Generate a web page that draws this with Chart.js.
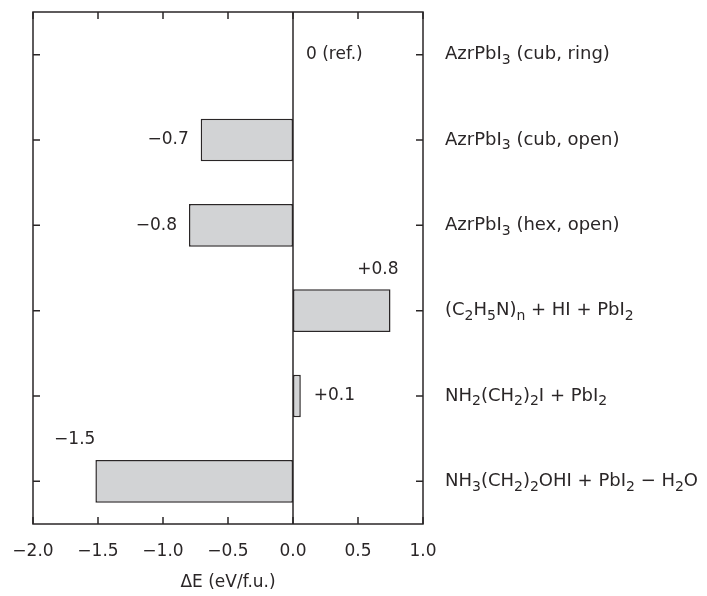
<!DOCTYPE html>
<html>
<head>
<meta charset="utf-8">
<script src="https://cdn.jsdelivr.net/npm/chart.js@4.4.1/dist/chart.umd.min.js"></script>
<style>
  html, body { margin: 0; padding: 0; background: #fff; }
  #wrap { width: 707px; height: 596px; position: relative; }
</style>
</head>
<body>
<div id="wrap"><canvas id="chart"></canvas></div>
<script>
// --- DATA ---
// "_" marks the next character as a subscript
const categories = [
    'AzrPbI_3 (cub, ring)',
    'AzrPbI_3 (cub, open)',
    'AzrPbI_3 (hex, open)',
    '(C_2H_5N)_n + HI + PbI_2',
    'NH_2(CH_2)_2I + PbI_2',
    'NH_3(CH_2)_2OHI + PbI_2 \u2212 H_2O'
];
const energies = [0, -0.71, -0.8, 0.75, 0.06, -1.52];
const valueLabels = ['0 (ref.)', '\u22120.7', '\u22120.8', '+0.8', '+0.1', '\u22121.5'];
const xTicks = [-2.0, -1.5, -1.0, -0.5, 0.0, 0.5, 1.0];

// where each value label sits relative to its bar end
const labelPlacement = ['right', 'left', 'left', 'above', 'right', 'above'];

const INK = '#2a2627';
const FONT = '"DejaVu Sans", sans-serif';
const FONT_SIZE = 17;

// --- HELPERS ---
function parseRich(str) {
    const parts = [];
    for (let i = 0; i < str.length; i++) {
        if (str[i] === '_' && i + 1 < str.length) {
            parts.push({ t: str[i + 1], sub: true });
            i++;
        } else {
            const last = parts[parts.length - 1];
            if (last && !last.sub) last.t += str[i];
            else parts.push({ t: str[i], sub: false });
        }
    }
    return parts;
}

function drawRich(ctx, str, x, y, size) {
    ctx.textBaseline = 'middle';
    ctx.textAlign = 'left';
    parseRich(str).forEach(p => {
        if (p.sub) {
            ctx.font = `${Math.round(size * 0.8)}px ${FONT}`;
            ctx.fillText(p.t, x, y + size * 0.32);
        } else {
            ctx.font = `${size}px ${FONT}`;
            ctx.fillText(p.t, x, y);
        }
        x += ctx.measureText(p.t).width;
    });
}

// --- FRAME, TICKS, LABELS ---
const decorPlugin = {
    id: 'decor',
    afterDraw(chart) {
        const ctx = chart.ctx;
        const area = chart.chartArea;
        const xs = chart.scales.x;
        const ys = chart.scales.y;
        const tick = 7;
        ctx.save();
        ctx.strokeStyle = INK;
        ctx.lineWidth = 1.5;

        // frame
        ctx.strokeRect(area.left, area.top, area.right - area.left, area.bottom - area.top);

        // zero line
        const x0 = xs.getPixelForValue(0);
        ctx.beginPath();
        ctx.moveTo(x0, area.top);
        ctx.lineTo(x0, area.bottom);
        ctx.stroke();

        // x ticks (inward, top and bottom)
        ctx.beginPath();
        xs.ticks.forEach(t => {
            const px = xs.getPixelForValue(t.value);
            ctx.moveTo(px, area.bottom);
            ctx.lineTo(px, area.bottom - tick);
            ctx.moveTo(px, area.top);
            ctx.lineTo(px, area.top + tick);
        });
        // y ticks (inward, left and right)
        categories.forEach((c, i) => {
            const py = ys.getPixelForValue(i);
            ctx.moveTo(area.left, py);
            ctx.lineTo(area.left + tick, py);
            ctx.moveTo(area.right, py);
            ctx.lineTo(area.right - tick, py);
        });
        ctx.stroke();

        // category labels on the right
        ctx.fillStyle = INK;
        categories.forEach((c, i) => {
            drawRich(ctx, c, area.right + 22, ys.getPixelForValue(i), 18);
        });

        // value labels
        ctx.font = `${FONT_SIZE}px ${FONT}`;
        const bars = chart.getDatasetMeta(0).data;
        bars.forEach((bar, i) => {
            const where = labelPlacement[i];
            const end = bar.x;
            const py = bar.y;
            ctx.textBaseline = 'middle';
            if (where === 'right') {
                ctx.textAlign = 'left';
                ctx.fillText(valueLabels[i], end + 13, py);
            } else if (where === 'left') {
                ctx.textAlign = 'right';
                ctx.fillText(valueLabels[i], end - 12, py);
            } else {
                ctx.textAlign = 'right';
                const dx = energies[i] >= 0 ? 8 : 0;
                ctx.fillText(valueLabels[i], end + dx, py - bar.height / 2 - 20);
            }
        });
        ctx.restore();
    }
};

// --- CHART ---
new Chart(document.getElementById('chart'), {
    type: 'bar',
    data: {
        labels: categories.map(c => c.replace(/_/g, '')),
        datasets: [{
            data: energies,
            backgroundColor: '#d2d3d5',
            borderColor: INK,
            borderWidth: 1.5,
            borderSkipped: false,
            barPercentage: 0.5,
            categoryPercentage: 1.0
        }]
    },
    options: {
        indexAxis: 'y',
        responsive: true,
        maintainAspectRatio: false,
        animation: false,
        layout: { padding: { top: 12, left: 33, right: 284, bottom: 0 } },
        plugins: {
            legend: { display: false },
            tooltip: { enabled: false }
        },
        scales: {
            x: {
                min: -2,
                max: 1,
                grid: { display: false, drawTicks: false },
                border: { display: false },
                afterBuildTicks: axis => { axis.ticks = xTicks.map(v => ({ value: v })); },
                afterFit: axis => {
                    axis.height = 72;
                    axis.paddingLeft = 0;
                    axis.paddingRight = 0;
                },
                ticks: {
                    color: INK,
                    padding: 17,
                    autoSkip: false,
                    maxRotation: 0,
                    font: { family: FONT, size: FONT_SIZE },
                    callback: v => v.toFixed(1).replace('-', '\u2212')
                },
                title: {
                    display: true,
                    text: '\u0394E (eV/f.u.)',
                    color: INK,
                    font: { family: FONT, size: FONT_SIZE },
                    padding: { top: 0, bottom: 3 }
                }
            },
            y: {
                display: false
            }
        }
    },
    plugins: [decorPlugin]
});
</script>
</body>
</html>
